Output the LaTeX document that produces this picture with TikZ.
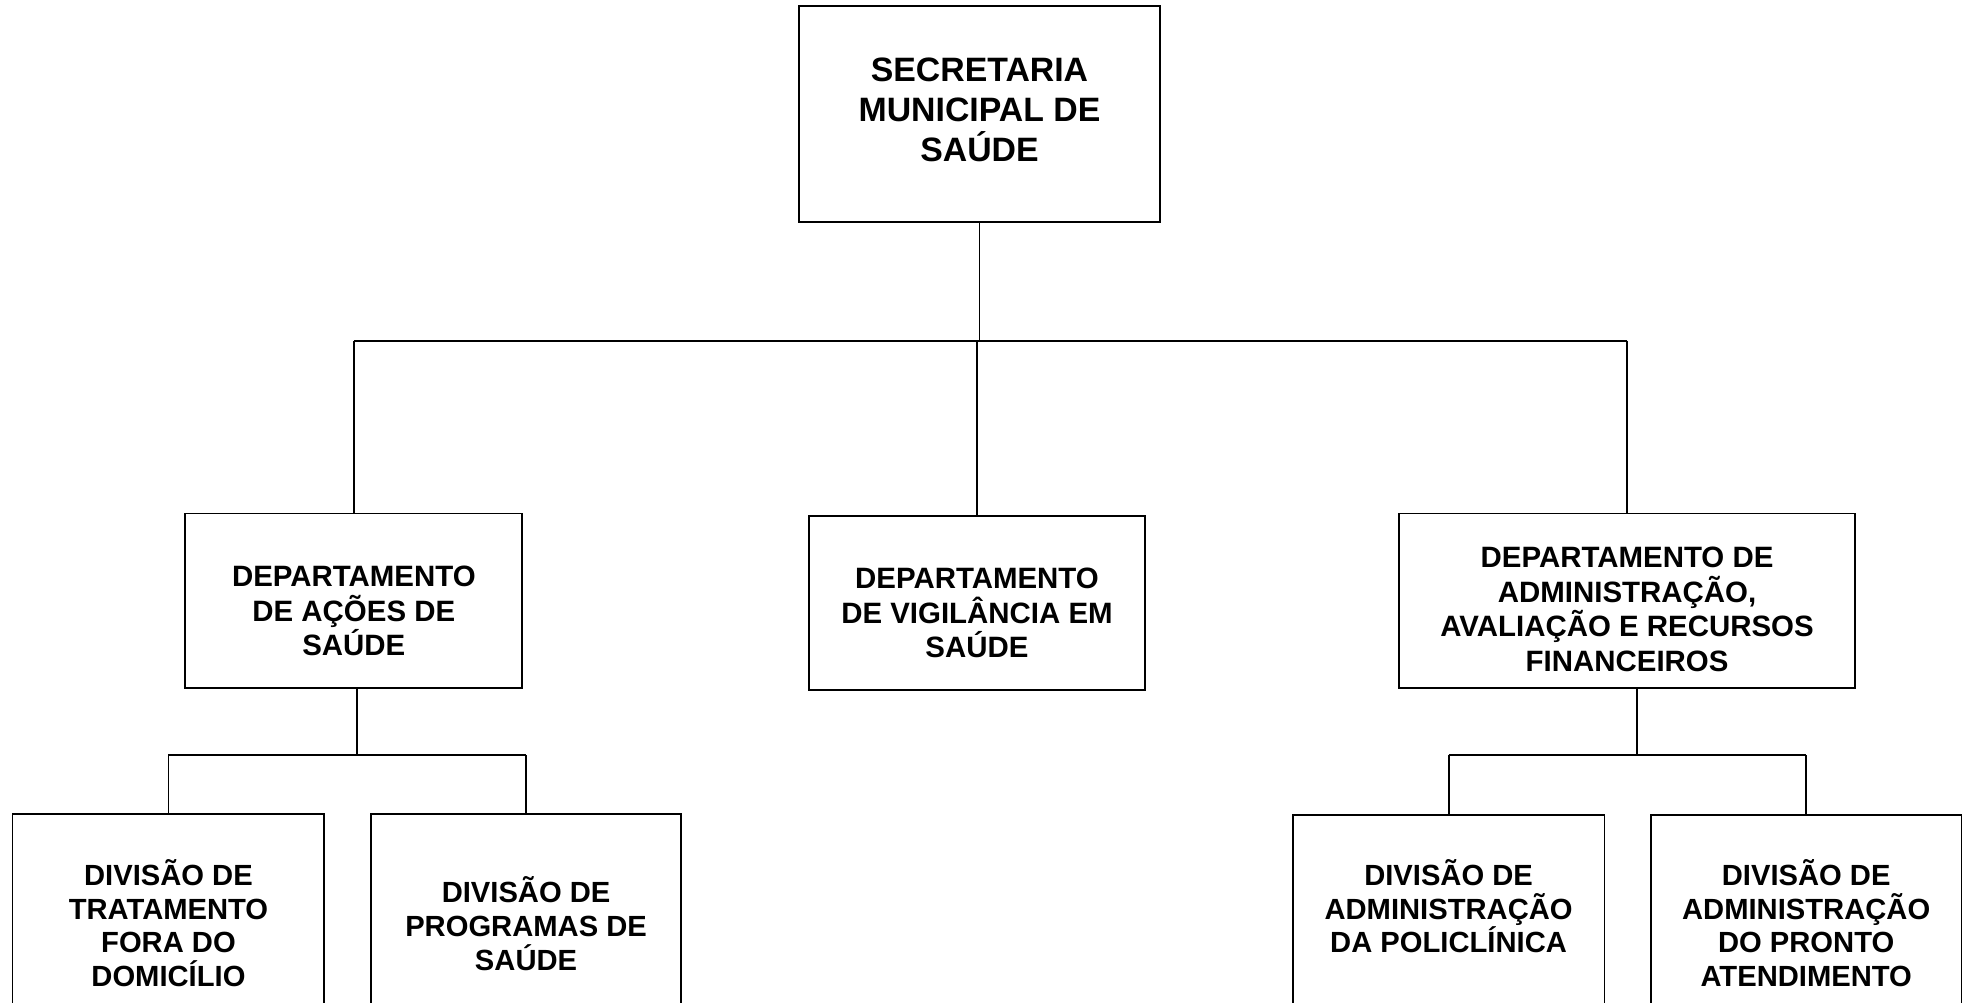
\documentclass[tikz,border=0pt]{standalone}
\usepackage{fontspec}
\setmainfont{Liberation Sans}
\begin{document}
\begin{tikzpicture}[x=1pt,y=-1pt]
\tikzset{
  box/.style={draw=black, line width=1.5pt, inner sep=0pt},
  conn/.style={draw=black, line width=1.5pt},
  lbl/.style={align=center, inner sep=0pt, font=\bfseries\fontsize{23.3pt}{27pt}\selectfont},
  lbldep/.style={align=center, inner sep=0pt, font=\bfseries\fontsize{23.5pt}{27.5pt}\selectfont},
  lblbig/.style={align=center, inner sep=0pt, font=\bfseries\fontsize{27pt}{32pt}\selectfont}
}
\useasboundingbox (0,0) rectangle (1568,800);
\clip (0,0) rectangle (1568,800);

% boxes
\node[box, minimum width=288pt, minimum height=172pt] (top) at (782,91) {};
\node[box, minimum width=269pt, minimum height=139pt] (ldep) at (282.5,479.5) {};
\node[box, minimum width=268pt, minimum height=139pt] (mdep) at (780,481.5) {};
\node[box, minimum width=364pt, minimum height=139pt] (rdep) at (1299,479.5) {};
\node[box, minimum width=249pt, minimum height=174pt] (d1) at (134.5,737) {};
\node[box, minimum width=248pt, minimum height=174pt] (d2) at (420,737) {};
\node[box, minimum width=249pt, minimum height=174pt] (d3) at (1156.5,738) {};
\node[box, minimum width=248pt, minimum height=174pt] (d4) at (1442,738) {};

% texts
\node[lblbig] (ttop) at (782,88) {SECRETARIA\\MUNICIPAL DE\\SAÚDE};
\node[lbldep] (tldep) at (282.5,488) {DEPARTAMENTO\\DE AÇÕES DE\\SAÚDE};
\node[lbldep] (tmdep) at (780,489.5) {DEPARTAMENTO\\DE VIGILÂNCIA EM\\SAÚDE};
\node[lbldep] (trdep) at (1299,486.5) {DEPARTAMENTO DE\\ADMINISTRAÇÃO,\\AVALIAÇÃO E RECURSOS\\FINANCEIROS};
\node[lbl] (td1) at (134.5,737) {DIVISÃO DE\\TRATAMENTO\\FORA DO\\DOMICÍLIO};
\node[lbl] (td2) at (420,737.5) {DIVISÃO DE\\PROGRAMAS DE\\SAÚDE};
\node[lbl] (td3) at (1156.5,723.5) {DIVISÃO DE\\ADMINISTRAÇÃO\\DA POLICLÍNICA};
\node[lbl] (td4) at (1442,737) {DIVISÃO DE\\ADMINISTRAÇÃO\\DO PRONTO\\ATENDIMENTO};

% junctions
\coordinate (j0) at (781,272);
\coordinate (j1) at (285,603);
\coordinate (j2) at (1307,603);

% top level connectors
\draw[conn] (top.south) -- (top.south |- j0);
\draw[conn] (ldep.north |- j0) -- (rdep.north |- j0);
\draw[conn] (ldep.north |- j0) -- (ldep.north);
\draw[conn] (mdep.north |- j0) -- (mdep.north);
\draw[conn] (rdep.north |- j0) -- (rdep.north);

% left subtree
\draw[conn] (j1 |- ldep.south) -- (j1);
\draw[conn] (d1.north |- j1) -- (d2.north |- j1);
\draw[conn] (d1.north |- j1) -- (d1.north);
\draw[conn] (d2.north |- j1) -- (d2.north);

% right subtree
\draw[conn] (j2 |- rdep.south) -- (j2);
\draw[conn] (d3.north |- j2) -- (d4.north |- j2);
\draw[conn] (d3.north |- j2) -- (d3.north);
\draw[conn] (d4.north |- j2) -- (d4.north);
\end{tikzpicture}
\end{document}
